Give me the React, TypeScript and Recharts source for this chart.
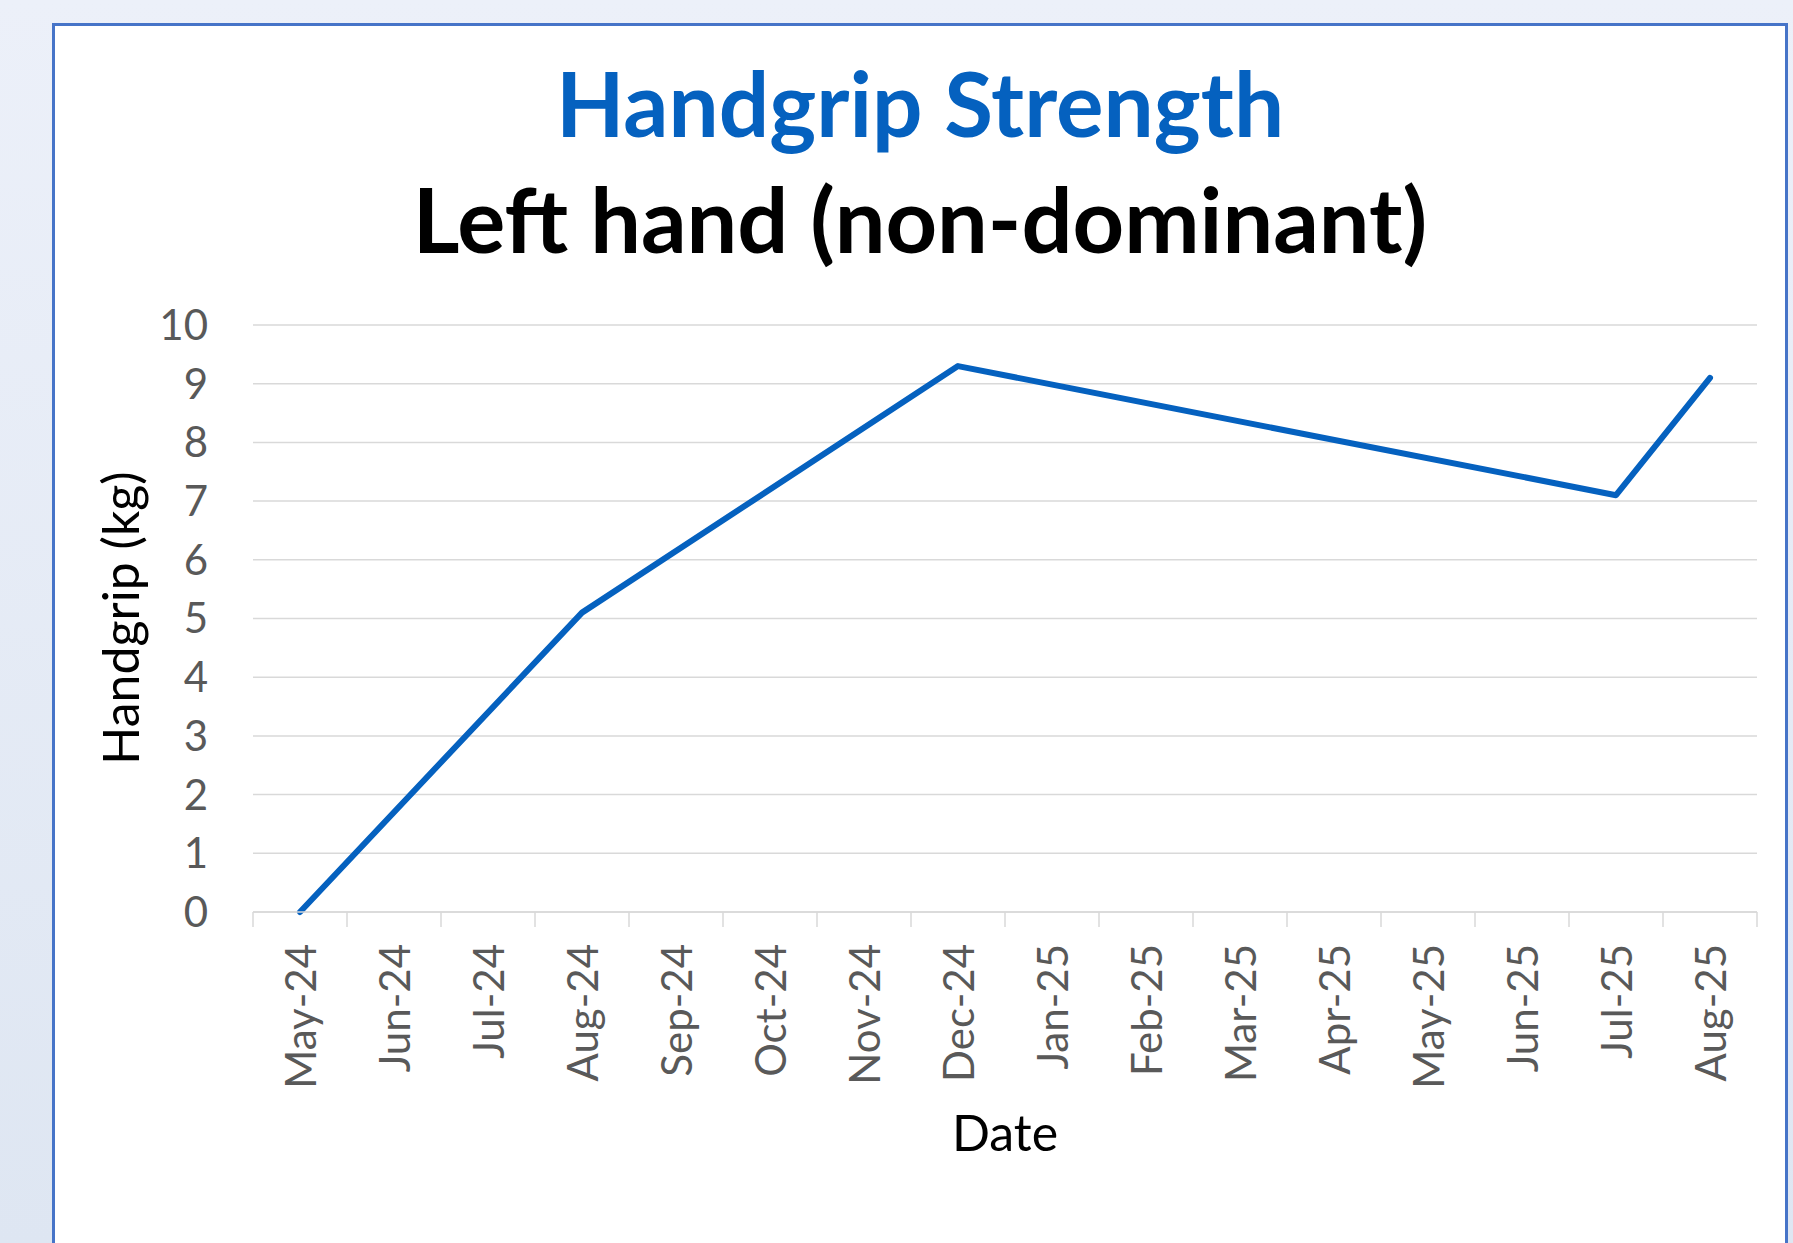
import React from 'react';
import { LineChart, Line, XAxis, YAxis, CartesianGrid } from 'recharts';

const months: string[] = [
  'May-24', 'Jun-24', 'Jul-24', 'Aug-24', 'Sep-24', 'Oct-24', 'Nov-24', 'Dec-24',
  'Jan-25', 'Feb-25', 'Mar-25', 'Apr-25', 'May-25', 'Jun-25', 'Jul-25', 'Aug-25',
];
const handgripLeft: (number | null)[] = [
  0, null, null, 5.1, null, null, null, 9.3,
  null, null, null, null, null, null, 7.1, 9.1,
];
const yTicks: number[] = [0, 1, 2, 3, 4, 5, 6, 7, 8, 9, 10];

const titleMain = 'Handgrip Strength';
const titleSub = 'Left hand (non-dominant)';
const yTitle = 'Handgrip (kg)';
const xTitle = 'Date';

// Each month occupies one category slot [i, i+1]; the point sits in the middle of its slot.
const data = months.map((m, i) => ({ month: m, slot: i + 0.5, value: handgripLeft[i] }));
// Ticks: category boundaries (tick marks) and category centres (labels).
const xTicks: number[] = months.flatMap((_, i) => [i, i + 0.5]).concat([months.length]);

const FONT = 'Lato, "Open Sans", sans-serif';
const BLUE = '#0561BF';
const GRAY_TEXT = '#595959';
const GRID = '#D9D9D9';

const W = 1793;
const H = 1243;

const XTick = (props: any) => {
  const { x, y, payload } = props;
  const v = payload.value as number;
  if (Number.isInteger(v)) {
    return <line x1={x} y1={y} x2={x} y2={y + 15} stroke={GRID} strokeWidth={1.5} />;
  }
  const label = months[Math.floor(v)];
  const ty = y + 32;
  return (
    <text
      x={x}
      y={ty}
      transform={`rotate(-90, ${x}, ${ty})`}
      textAnchor="end"
      dy="0.38em"
      fill={GRAY_TEXT}
      fontSize={42}
      fontFamily={FONT}
    >
      {label}
    </text>
  );
};

export default function App() {
  return (
    <div
      style={{
        position: 'absolute',
        left: 0,
        top: 0,
        width: W,
        height: H,
        overflow: 'hidden',
        background: 'linear-gradient(180deg, #ECF0F9 0%, #DEE6F2 100%)',
      }}
    >
      <div
        style={{
          position: 'absolute',
          left: 52,
          top: 23,
          width: 1736,
          height: 1300,
          boxSizing: 'border-box',
          border: '3px solid #4674C8',
          background: '#FFFFFF',
        }}
      />
      <div style={{ position: 'absolute', left: 0, top: 0 }}>
        <LineChart
          width={W}
          height={H}
          data={data}
          margin={{ top: 325, right: 36, bottom: 330, left: 133 }}
        >
          <CartesianGrid vertical={false} stroke={GRID} strokeWidth={1.5} />
          <XAxis
            dataKey="slot"
            type="number"
            domain={[0, months.length]}
            ticks={xTicks}
            interval={0}
            allowDataOverflow
            height={1}
            tickLine={false}
            tickSize={0}
            tickMargin={0}
            axisLine={{ stroke: GRID, strokeWidth: 1.5 }}
            tick={<XTick />}
          />
          <YAxis
            domain={[0, 10]}
            ticks={yTicks}
            interval={0}
            width={120}
            axisLine={false}
            tickLine={false}
            tickSize={0}
            tickMargin={45}
            tick={{ fill: GRAY_TEXT, fontSize: 42, fontFamily: FONT }}
          />
          <Line
            type="linear"
            dataKey="value"
            stroke={BLUE}
            strokeWidth={6}
            dot={false}
            activeDot={false}
            connectNulls
            strokeLinecap="round"
            strokeLinejoin="round"
            isAnimationActive={false}
          />
        </LineChart>
      </div>
      <svg
        width={W}
        height={H}
        style={{ position: 'absolute', left: 0, top: 0, pointerEvents: 'none' }}
      >
        <text x={920} y={137} textAnchor="middle" fontFamily={FONT} fontWeight={700} fontSize={89} fill={BLUE}>
          {titleMain}
        </text>
        <text x={920} y={253} textAnchor="middle" fontFamily={FONT} fontWeight={700} fontSize={90} fill="#000000">
          {titleSub}
        </text>
        <text
          x={139}
          y={618}
          transform="rotate(-90, 139, 618)"
          textAnchor="middle"
          fontFamily={FONT}
          fontSize={50}
          fill="#000000"
        >
          {yTitle}
        </text>
        <text x={1005} y={1151} textAnchor="middle" fontFamily={FONT} fontSize={50} fill="#000000">
          {xTitle}
        </text>
      </svg>
    </div>
  );
}
